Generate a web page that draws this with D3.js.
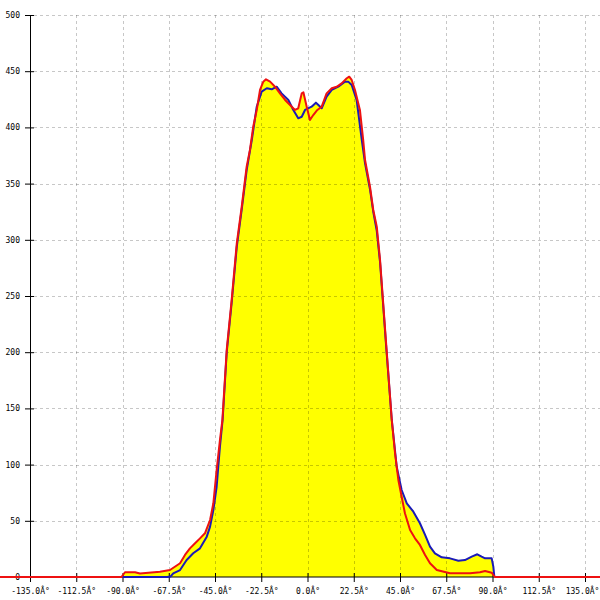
<!DOCTYPE html>
<html><head><meta charset="utf-8">
<script src="https://cdn.jsdelivr.net/npm/d3@7"></script>
<style>body{margin:0;background:#fff}svg{display:block}</style>
</head><body>
<script>
const redAngles = [-150,-90.5,-88.8,-83.9,-81.5,-71.8,-66.9,-62.0,-59.6,-57.2,-54.7,-52.3,-49.9,-47.4,-45.8,-44.2,-42.6,-41.4,-39.3,-36.9,-34.4,-32.0,-29.6,-28.0,-26.4,-24.7,-23.1,-21.5,-20.2,-18.2,-15.8,-13.4,-10.9,-8.5,-6.1,-4.5,-2.8,-2.0,-0.4,1.2,2.8,4.8,6.9,9.3,11.8,14.2,16.6,19.1,20.3,21.5,23.1,25.5,27.1,28.0,30.4,32.0,33.7,35.3,38.2,41.0,42.6,44.2,45.8,47.4,49.9,52.3,54.7,57.2,59.6,62.9,69.3,79.1,83.9,86.4,89.6,91.2,150];
const redValues = [0,0,4.2,4.2,3.1,4.7,6.2,12.2,19.6,25.5,30,34.4,38.9,50.7,65.6,95.2,121.9,139.7,202,246.4,296.9,329.4,365,380,400.6,415.5,433.3,440.7,442.8,440.7,436.2,430.3,424.4,419.9,415.5,417,430.3,431.2,418.4,406.6,411,415.5,418.4,430.3,434.8,436.2,439.2,443.7,445.1,442.2,433.3,415.5,388.8,371,347.2,326.5,311.7,282,209,139.7,110,86.3,71.4,56.7,41.8,34.4,28.5,19.6,12.2,6.2,3.3,3.3,4.2,5.3,3.8,0,0];
const blueAngles = [-90.2,-68.3,-66.6,-65.3,-62.0,-58.8,-55.6,-52.3,-49.0,-47.4,-45.8,-44.2,-42.6,-41.3,-39.3,-36.9,-34.4,-32.0,-29.6,-27.1,-24.7,-22.3,-19.8,-17.4,-15.0,-12.6,-9.3,-6.9,-4.5,-2.8,-1.2,2.0,4.1,5.3,6.9,9.3,11.8,15.0,18.2,19.8,21.5,23.9,26.4,28.0,30.4,32.0,33.7,35.3,38.2,41.0,43.4,45.8,48.3,51.5,54.7,57.2,59.6,62.0,65.3,69.3,73.4,76.6,79.9,82.6,84.7,86.4,89.6,90.4,90.9];
const blueValues = [0,0,0.5,3.3,6.2,15.1,21.1,25.5,35.9,44.8,59.6,80.3,115.9,139.7,200,244,294,327,362,388.8,418.4,431.8,434.8,433.9,436.2,430.3,424.4,415.5,408.1,409.5,415.5,418.4,422,419.9,417,427.3,433.3,436.2,440.7,440.7,437.7,424.4,388.8,368,345,325,308,280,207,139.7,98.1,77.4,65.6,58.1,47.8,37.4,27,21.1,17.5,16.6,14.5,15.1,18.1,20.2,18.1,16.6,16.6,9.2,0];
const xTicks = [-135,-112.5,-90,-67.5,-45,-22.5,0,22.5,45,67.5,90,112.5,135];
const yTicks = [0,50,100,150,200,250,300,350,400,450,500];

const W = 600, H = 600;
const svg = d3.select("body").append("svg").attr("width", W).attr("height", H);
const x = d3.scaleLinear().domain([-135,135]).range([30,585]);
const y = d3.scaleLinear().domain([0,500]).range([577,15]);

const red = redAngles.map((a,i)=>[a, redValues[i]]);
const blue = blueAngles.map((a,i)=>[a, blueValues[i]]);

const area = d3.area().x(d=>x(d[0])).y0(y(0)).y1(d=>y(d[1]));
const line = d3.line().x(d=>x(d[0])).y(d=>y(d[1]));

svg.append("path").datum(red).attr("d", area).attr("fill", "#ffff00");
svg.append("path").datum(blue).attr("d", area).attr("fill", "#ffff00");

// grid
const g = svg.append("g").attr("stroke", "#000").attr("stroke-opacity", 0.22).attr("stroke-dasharray", "3,3").attr("shape-rendering","crispEdges");
g.selectAll("line.v").data(xTicks.filter(t=>t!==-135)).enter().append("line")
  .attr("x1", d=>Math.round(x(d))+0.5).attr("x2", d=>Math.round(x(d))+0.5).attr("y1", y(500)).attr("y2", y(0));
g.selectAll("line.h").data(yTicks.filter(t=>t!==0)).enter().append("line")
  .attr("x1", 34).attr("x2", 600).attr("y1", d=>Math.round(y(d))+0.5).attr("y2", d=>Math.round(y(d))+0.5);

// axes
const xAxis = d3.axisBottom(x).tickValues(xTicks).tickSize(5).tickFormat(d=>d.toFixed(1)+"Â°");
const yAxis = d3.axisLeft(y).tickValues(yTicks).tickSize(5).tickFormat(d=>String(d));

const ax = svg.append("g").attr("transform", `translate(0,${y(0)})`).call(xAxis);
ax.select(".domain").remove();
ax.selectAll(".tick line").attr("y1", -4).attr("y2", 5).attr("stroke", "#000");
ax.selectAll(".tick text").attr("y", 11).attr("dy", "0.71em").attr("font-family", "DejaVu Sans Mono, monospace").attr("font-size", 8).attr("fill", "#000")
  .attr("x", d=>d===135 ? -3 : 0);
svg.append("line").attr("x1", 30).attr("x2", 585).attr("y1", y(0)).attr("y2", y(0)).attr("stroke", "#000");

const ay = svg.append("g").attr("transform", `translate(30,0)`).call(yAxis);
ay.select(".domain").remove();
ay.selectAll(".tick line").attr("x1", -5).attr("x2", 4).attr("stroke", "#000");
ay.selectAll(".tick text").attr("x", -10).attr("font-family", "DejaVu Sans Mono, monospace").attr("font-size", 8).attr("fill", "#000");
svg.append("line").attr("x1", 30.5).attr("x2", 30.5).attr("y1", y(500)).attr("y2", y(0)).attr("stroke", "#000");

svg.append("path").datum(blue).attr("d", line).attr("fill", "none").attr("stroke", "#1a1ab8").attr("stroke-width", 2).attr("stroke-linejoin","round");
svg.append("path").datum(red).attr("d", line).attr("fill", "none").attr("stroke", "#ee1111").attr("stroke-width", 2).attr("stroke-linejoin","round");
</script>
</body></html>
